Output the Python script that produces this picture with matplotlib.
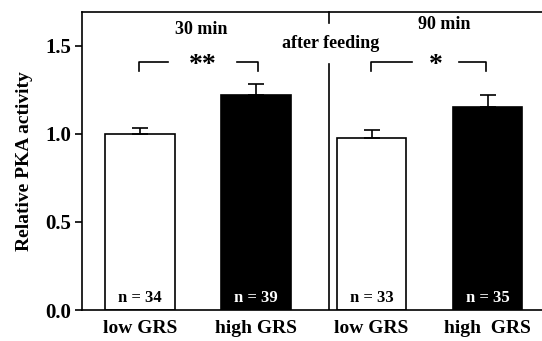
import matplotlib
matplotlib.use("Agg")
import matplotlib.pyplot as plt

categories = ["low GRS", "high GRS", "low GRS", "high  GRS"]
values = [1.0, 1.222, 0.975, 1.155]
errors = [0.032, 0.062, 0.048, 0.068]
n_labels = ["n = 34", "n = 39", "n = 33", "n = 35"]
colors = ["white", "black", "white", "black"]
text_colors = ["black", "white", "black", "white"]
yticks = [0.0, 0.5, 1.0, 1.5]

plt.rcParams['font.family'] = ['Liberation Serif', 'DejaVu Serif']
plt.rcParams['font.weight'] = 'bold'

fig = plt.figure(figsize=(5.42, 3.41), dpi=100)
ax = fig.add_axes([82/542, 1-310/341, 1-82/542, (310-12)/341])

x = list(range(len(values)))
ax.bar(x, values, width=0.6, color=colors, edgecolor="black", linewidth=1.2, zorder=2)
ax.errorbar(x, values, yerr=[[0]*4, errors], fmt="none", ecolor="black",
            elinewidth=1.2, capsize=6, capthick=1.2, zorder=3)

for xi, t, c in zip(x, n_labels, text_colors):
    ax.text(xi, 0.07, t, ha="center", va="center", color=c, fontsize=12, fontweight="bold", zorder=4)

ax.set_xlim(-0.5, 3.47)
ax.set_ylim(0, 1.693)
ax.set_yticks(yticks)
ax.set_yticklabels(["0.0", "0.5", "1.0", "1.5"], fontsize=15, fontweight="bold")
ax.set_xticks(x)
ax.set_xticklabels(categories, fontsize=14, fontweight="bold")
ax.tick_params(axis="x", length=0, pad=7)
ax.tick_params(axis="y", direction="out", length=5, width=1.2, pad=3)
ax.spines["right"].set_visible(False)
for s in ["left", "top", "bottom"]:
    ax.spines[s].set_linewidth(1.2)
ax.set_ylabel("Relative PKA activity", fontsize=14, fontweight="bold", labelpad=9)

# divider
xd = 1.63
ax.plot([xd, xd], [1.693, 1.63], color="black", lw=1.2, clip_on=False)
ax.plot([xd, xd], [0, 1.395], color="black", lw=1.2)

# group labels
ax.text(0.53, 1.595, "30 min", ha="center", va="center", fontsize=13, fontweight="bold")
ax.text(2.63, 1.62, "90 min", ha="center", va="center", fontsize=13, fontweight="bold")
ax.text(1.65, 1.515, "after feeding", ha="center", va="center", fontsize=13, fontweight="bold")

# significance brackets
def bracket(x0, x1, xs, label, gap):
    y, yd = 1.41, 1.355
    ax.plot([x0, x0, xs - gap], [yd, y, y], color="black", lw=1.2)
    ax.plot([xs + gap, x1, x1], [y, y, yd], color="black", lw=1.2)
    ax.text(xs, y - 0.02, label, ha="center", va="center", fontsize=20, fontweight="bold")

bracket(-0.01, 1.02, 0.54, "**", 0.3)
bracket(1.99, 2.99, 2.55, "*", 0.2)

fig.savefig("out.png", dpi=100)
